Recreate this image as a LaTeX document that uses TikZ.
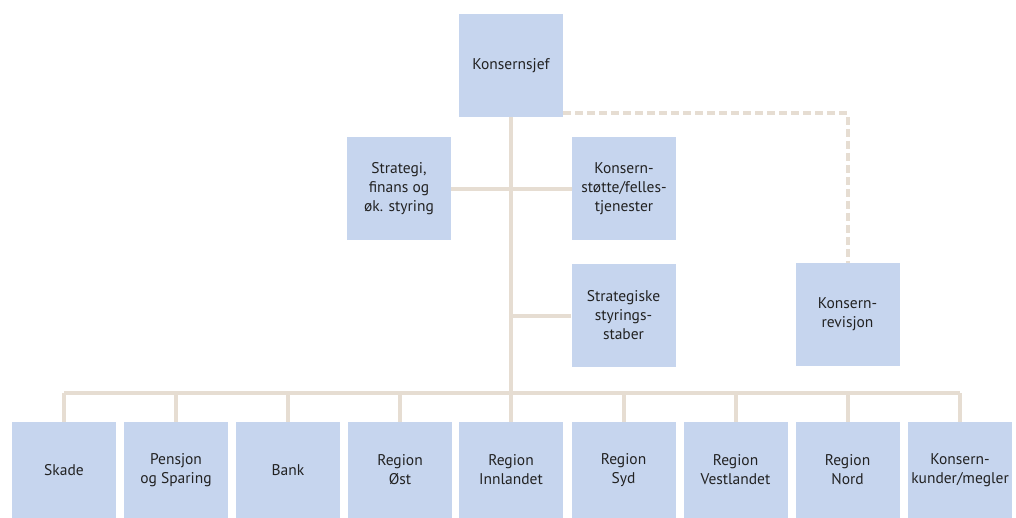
\documentclass[tikz,border=0pt]{standalone}
\usepackage{fontspec}
\setmainfont{PT Sans}
\definecolor{boxblue}{HTML}{C6D5EE}
\definecolor{linebeige}{HTML}{E6DDD2}
\definecolor{txt}{HTML}{222222}
\begin{document}
\begin{tikzpicture}[x=1pt,y=-1pt,
  orgbox/.style={fill=boxblue,draw=none,minimum width=104pt,minimum height=103pt,
    align=center,inner sep=0pt,font=\fontsize{15.5}{19}\selectfont,text=txt},
  lowbox/.style={orgbox,minimum height=96pt},
  conn/.style={draw=linebeige,line width=4pt},
  dashconn/.style={conn,dash pattern=on 8pt off 4pt}]
\useasboundingbox (0,0) rectangle (1016,518);
\node[orgbox] (sjef) at (511,65.5) {Konsernsjef};
\node[orgbox] (strat) at (399,189) {Strategi,\\finans og\\øk. styring};
\node[orgbox] (stotte) at (624,189) {Konsern-\\støtte/felles-\\tjenester};
\node[orgbox] (stab) at (623.5,315.5) {Strategiske\\styrings-\\staber};
\node[orgbox] (rev) at (847.5,314.5) {Konsern-\\revisjon};
\node[lowbox] (skade) at (64,470) {Skade};
\node[lowbox] (pensjon) at (176,470) {Pensjon\\og Sparing};
\node[lowbox] (bank) at (288,470) {Bank};
\node[lowbox] (ost) at (400,470) {Region\\Øst};
\node[lowbox] (innl) at (511,470) {Region\\Innlandet};
\node[lowbox] (syd) at (623.5,470) {Region\\Syd};
\node[lowbox] (vest) at (735.5,470) {Region\\Vestlandet};
\node[lowbox] (nord) at (847.5,470) {Region\\Nord};
\node[lowbox] (kunder) at (960,470) {Konsern-\\kunder/megler};
\coordinate (busy) at (0,393);
\draw[conn] (sjef.south) -- (innl.north);
\draw[conn] (strat.east) -- (stotte.west);
\draw[conn] (sjef.south |- stab.west) -- (stab.west);
\draw[conn] (skade.north |- busy) -- (kunder.north |- busy);
\foreach \b in {skade,pensjon,bank,ost,syd,vest,nord,kunder}
  \draw[conn] (\b.north |- busy) -- (\b.north);
\draw[dashconn] ([yshift=4pt]sjef.south east) -| (rev.north);
\end{tikzpicture}
\end{document}
